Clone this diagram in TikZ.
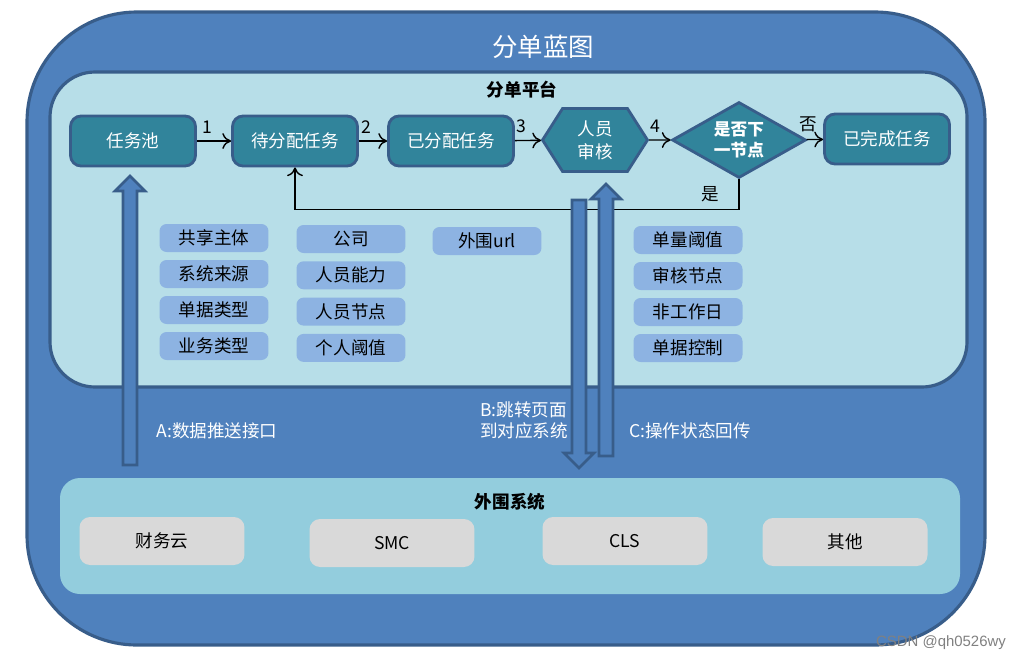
\documentclass[tikz,border=0pt]{standalone}
\usepackage{fontspec}
\setmainfont{Noto Sans CJK SC}
\newfontfamily\csdnfont{Liberation Sans}
\usetikzlibrary{shapes.geometric,shapes.symbols,arrows.meta}

\definecolor{frameblue}{HTML}{4F81BD}
\definecolor{edgeblue}{HTML}{385D8A}
\definecolor{panelcyan}{HTML}{B7DEE8}
\definecolor{boxteal}{HTML}{31849B}
\definecolor{attrblue}{HTML}{8DB3E2}
\definecolor{extcyan}{HTML}{93CDDD}
\definecolor{extgray}{HTML}{D9D9D9}

\begin{document}
\begin{tikzpicture}[x=0.02cm,y=-0.02cm,
    task/.style={draw=edgeblue,line width=1.6pt,fill=boxteal,rounded corners=6pt,
        minimum width=2.5cm,minimum height=1cm,text=white,font=\fontsize{10}{12}\selectfont},
    attr/.style={fill=attrblue,rounded corners=4pt,minimum width=2.18cm,minimum height=0.56cm,
        inner sep=0pt,font=\fontsize{10}{12}\selectfont},
    extbox/.style={fill=extgray,rounded corners=6pt,minimum width=3.3cm,minimum height=0.96cm,
        font=\fontsize{10}{12}\selectfont},
    flow/.style={draw=black,line width=0.8pt,-{To[length=5pt,width=9pt]}},
    num/.style={font=\fontsize{10}{12}\selectfont,inner sep=1pt,yshift=3pt},
    side/.style={text=white,font=\fontsize{10}{12}\selectfont,align=left}]
    \useasboundingbox (0,0) rectangle (1013,660);

    % Outer frame
    \draw[fill=frameblue,draw=edgeblue,line width=1.8pt,rounded corners=2.2cm] (27,12) rectangle (985,645);
    \node[text=white,font=\fontsize{14.5}{16}\selectfont] (title) at (543,47) {分单蓝图};

    % Platform panel
    \draw[fill=panelcyan,draw=edgeblue,line width=1.8pt,rounded corners=0.9cm] (50,72) rectangle (967,387);
    \node[font=\bfseries\fontsize{10}{12}\selectfont] (plat) at (522,90) {分单平台};

    % Flow
    \node[task] (pool) at (133,141) {任务池};
    \node[task] (pend) at (295,141) {待分配任务};
    \node[task] (asgn) at (451,141) {已分配任务};
    \node[signal,signal to=east and west,signal from=nowhere,signal pointer angle=115,
        draw=edgeblue,line width=1.6pt,fill=boxteal,minimum width=2.1cm,minimum height=1.26cm,
        inner sep=0pt,text=white,align=center,font=\fontsize{10}{13}\selectfont] (chkr) at (595,140) {人员\\审核};
    \node[diamond,aspect=1.76,draw=edgeblue,line width=1.6pt,fill=boxteal,minimum width=2.68cm,
        minimum height=1.52cm,inner sep=0pt,text=white,align=center,
        font=\bfseries\fontsize{9.5}{12}\selectfont] (next) at (739,140) {是否下\\一节点};
    \node[task] (done) at (887,139) {已完成任务};

    \draw[flow] (pool) -- node[num,pos=0.3,above] {1} (pend);
    \draw[flow] (pend) -- node[num,pos=0.25,above] {2} (asgn);
    \draw[flow] (asgn) -- node[num,pos=0.25,above] {3} (chkr);
    \draw[flow] (chkr) -- node[num,pos=0.3,above] {4} (next);
    \draw[flow] (next) -- node[num,pos=0.1,above] {否} (done);
    \draw[flow] (next.south) -- node[num,left,pos=0.5,xshift=-10pt,yshift=-3pt] {是} ++(0,30) -| (pend.south);

    % Rules
    \foreach \t [count=\i] in {共享主体,系统来源,单据类型,业务类型}
        \node[attr] (p\i) at (214,{238+36*(\i-1)}) {\t};
    \foreach \t [count=\i] in {公司,人员能力,人员节点,个人阈值}
        \node[attr] (q\i) at (351,{239+36.3*(\i-1)}) {\t};
    \node[attr] (url) at (487,241) {外围url};
    \foreach \t [count=\i] in {单量阈值,审核节点,非工作日,单据控制}
        \node[attr] (r\i) at (688,{240+36*(\i-1)}) {\t};

    % Block arrows
    \foreach \cx/\yb/\yt/\d in {130/465/176/1, 579/200/468/-1, 606/456/184/1}
        \draw[fill=frameblue,draw=edgeblue,line width=1.5pt]
            ({\cx-7},\yb) -- ({\cx-7},{\yt+15*\d}) -- ({\cx-15},{\yt+15*\d}) -- (\cx,\yt)
            -- ({\cx+15},{\yt+15*\d}) -- ({\cx+7},{\yt+15*\d}) -- ({\cx+7},\yb) -- cycle;

    \node[side] (push) at (217,431) {A:数据推送接口};
    \node[side,anchor=west] (jump) at (474,420) {B:跳转页面\\到对应系统};
    \node[side] (back) at (690,431) {C:操作状态回传};

    % Outside systems
    \fill[extcyan,rounded corners=0.4cm] (60,478) rectangle (960,594);
    \node[font=\bfseries\fontsize{10}{12}\selectfont] (ext) at (510,502) {外围系统};
    \node[extbox] (fin) at (162,541) {财务云};
    \node[extbox] (smc) at (392,543) {SMC};
    \node[extbox] (cls) at (625,541) {CLS};
    \node[extbox] (oth) at (845,542) {其他};

    \node[text=gray,font=\csdnfont\fontsize{8.5}{10}\selectfont] (mark) at (941,643) {CSDN @qh0526wy};
\end{tikzpicture}
\end{document}
